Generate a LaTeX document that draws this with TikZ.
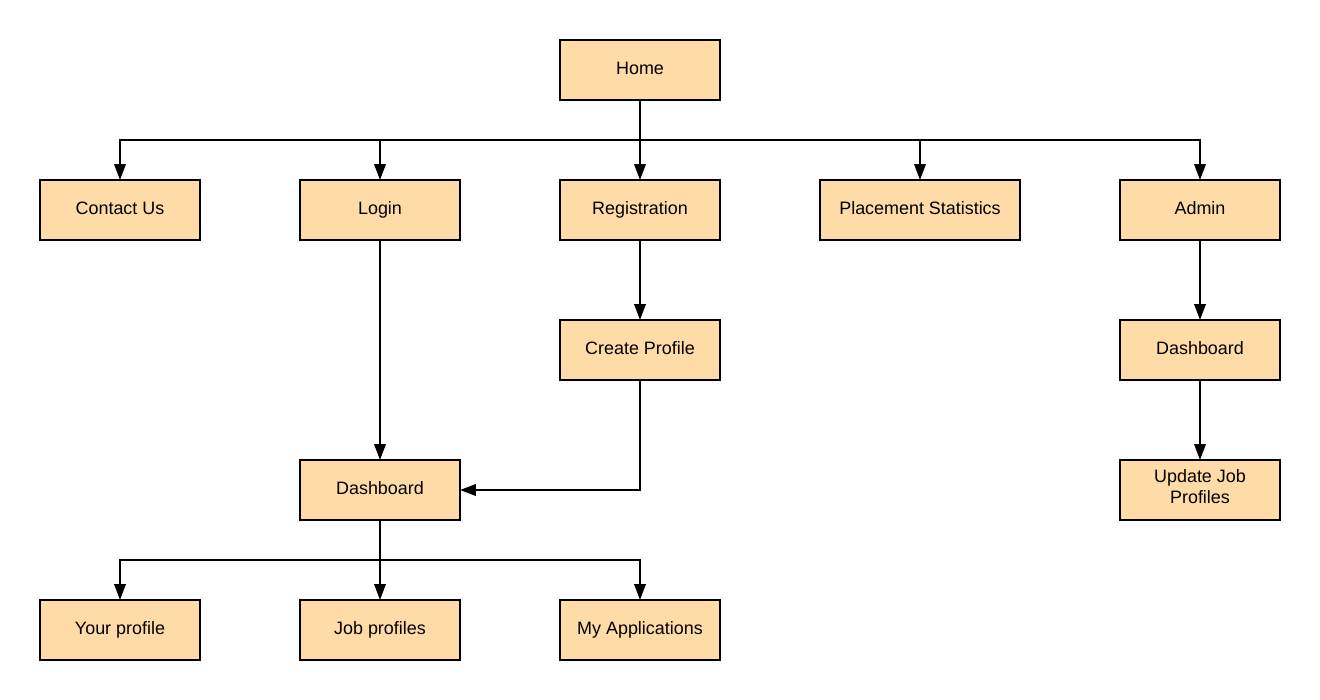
\documentclass[tikz,border=0pt]{standalone}
\usepackage{fontspec}
\setmainfont{Liberation Sans}
\usepackage{xcolor}
\usetikzlibrary{arrows.meta, positioning}

\definecolor{pagefill}{RGB}{254,219,167}

\begin{document}
\begin{tikzpicture}[node distance=1.6cm and 2cm, line width=1.1pt,
    page/.style={rectangle, draw, fill=pagefill, outer sep=0pt, minimum width=3.2cm, minimum height=1.2cm, align=center, font=\fontsize{10.2}{12}\selectfont, execute at begin node=\strut},
    link/.style={-{Triangle[width=6.5pt,length=9pt]}}]
    \useasboundingbox (0,0) rectangle (26.4,14);
    % Nodes
    \node (Home) [page] at (12.8,12.6) {Home};
    \node (Reg) [page, below=of Home] {Registration};
    \node (Login) [page, left=of Reg] {Login};
    \node (Contact) [page, left=of Login] {Contact Us};
    \node (Stats) [page, minimum width=4cm, right=of Reg] {Placement Statistics};
    \node (Admin) [page, right=of Stats] {Admin};
    \node (Profile) [page, below=of Reg] {Create Profile};
    \node (AdminDash) [page, below=of Admin] {Dashboard};
    \node (Update) [page, below=of AdminDash] {Update Job\\Profiles};
    \node (Dash) [page, below=4.4cm of Login] {Dashboard};
    \node (Jobs) [page, below=of Dash] {Job profiles};
    \node (Yours) [page, left=of Jobs] {Your profile};
    \node (Apps) [page, right=of Jobs] {My Applications};

    % Home menu
    \draw [link] (Home) -- (Reg);
    \draw [link] (Home.south) -- ++(0,-0.8) -| (Contact.north);
    \draw [link] (Home.south) -- ++(0,-0.8) -| (Login.north);
    \draw [link] (Home.south) -- ++(0,-0.8) -| (Stats.north);
    \draw [link] (Home.south) -- ++(0,-0.8) -| (Admin.north);

    \draw [link] (Login) -- (Dash);
    \draw [link] (Reg) -- (Profile);
    \draw [link] (Profile.south) |- (Dash.east);
    \draw [link] (Admin) -- (AdminDash);
    \draw [link] (AdminDash) -- (Update);

    % Dashboard menu
    \draw [link] (Dash) -- (Jobs);
    \draw [link] (Dash.south) -- ++(0,-0.8) -| (Yours.north);
    \draw [link] (Dash.south) -- ++(0,-0.8) -| (Apps.north);
\end{tikzpicture}
\end{document}
